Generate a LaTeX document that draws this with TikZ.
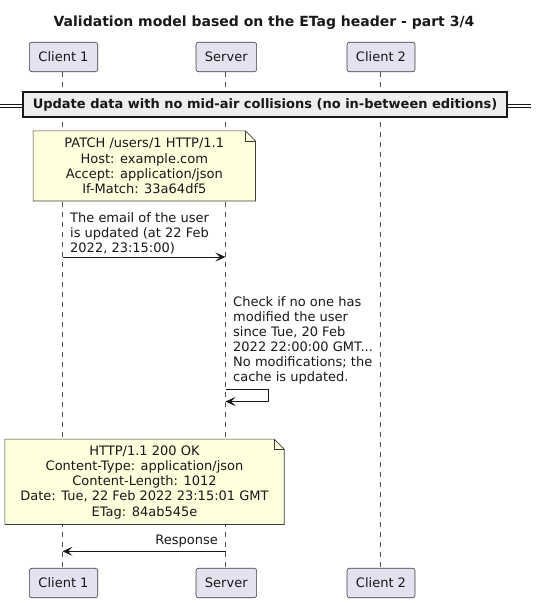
\documentclass[tikz,border=0pt]{standalone}
\usepackage{fontspec}
\setmainfont{DejaVu Sans}
\usetikzlibrary{arrows.meta}
\definecolor{partfill}{HTML}{E2E2F0}
\definecolor{linecol}{HTML}{181818}
\definecolor{notefill}{HTML}{FEFFDD}
\definecolor{divfill}{HTML}{EEEEEE}
\tikzset{
  txt/.style={font=\fontsize{13}{15.1}\selectfont, inner sep=0pt, text=linecol},
  participant/.style={txt, draw=linecol!85, fill=partfill, rounded corners=2.5pt, line width=0.6pt, minimum height=29.5pt},
  lifeline/.style={draw=linecol!75, dash pattern=on 5pt off 5pt, line width=0.6pt},
  notebox/.style={draw=linecol!85, fill=notefill, line width=0.6pt},
  notetext/.style={txt, align=center},
  msg/.style={draw=linecol, line width=0.9pt, -{Stealth[length=10pt,width=9pt,inset=4.5pt]}},
  msglabel/.style={txt, align=left},
}
\begin{document}
\begin{tikzpicture}[x=1pt,y=-1pt]
\useasboundingbox (0,0) rectangle (536,603);

% title
\node[txt, font=\bfseries\fontsize{14}{16}\selectfont] (title) at (264,23) {Validation model based on the ETag header - part 3/4};

% participants
\node[participant, minimum width=68.4pt] (c1top) at (63.5,57) {Client 1};
\node[participant, minimum width=60.6pt] (svtop) at (226.3,57) {Server};
\node[participant, minimum width=68pt] (c2top) at (381,57) {Client 2};
\node[participant, minimum width=68.4pt] (c1bot) at (63.5,583) {Client 1};
\node[participant, minimum width=60.6pt] (svbot) at (226.3,583) {Server};
\node[participant, minimum width=68pt] (c2bot) at (381,583) {Client 2};

% lifelines
\draw[lifeline] ([xshift=-1pt]c1top.south) -- ([xshift=-1pt]c1bot.north);
\draw[lifeline] ([xshift=-0.8pt]svtop.south) -- ([xshift=-0.8pt]svbot.north);
\draw[lifeline] ([xshift=-1pt]c2top.south) -- ([xshift=-1pt]c2bot.north);

% divider
\coordinate (dl) at (0,104);
\coordinate (dr) at (531,104);
\coordinate (dl2) at (0,107.5);
\coordinate (dr2) at (531,107.5);
\draw[linecol, line width=0.9pt] (dl) -- (dr);
\draw[linecol, line width=0.9pt] (dl2) -- (dr2);
\node[txt, font=\bfseries\fontsize{13}{15}\selectfont, draw=linecol, line width=1.8pt, fill=divfill, minimum width=483.4pt, minimum height=25pt] (div) at (265,104.8) {Update data with no mid-air collisions (no in-between editions)};

% note 1
\node[notetext, minimum width=222pt, minimum height=69.7pt] (n1) at (144.3,165.9) {};
\draw[notebox] (n1.north west) -- ([xshift=-10pt]n1.north east) -- ([yshift=-10pt]n1.north east) -- (n1.south east) -- (n1.south west) -- cycle;
\draw[notebox, fill=none] ([xshift=-10pt]n1.north east) -- ([xshift=-10pt,yshift=-10pt]n1.north east) -- ([yshift=-10pt]n1.north east);
\node[notetext] (n1t) at (n1.center) {PATCH /users/1 HTTP/1.1\\Host: example.com\\Accept: application/json\\If-Match: 33a64df5};

% message 1
\coordinate (m1a) at (62.5,257);
\coordinate (m1b) at (225.5,257);
\draw[msg] (m1a) -- (m1b);
\node[msglabel, anchor=west] (m1l) at (70,233.7) {The email of the user\\is updated (at 22 Feb\\2022, 23:15:00)};

% self message
\coordinate (s1a) at (225.5,389);
\coordinate (s1r) at (268,389);
\coordinate (s1rb) at (268,401.5);
\coordinate (s1b) at (225.5,401.5);
\draw[msg] (s1a) -- (s1r) -- (s1rb) -- (s1b);
\node[msglabel, anchor=west] (s1l) at (233,340.6) {Check if no one has\\modified the user\\since Tue, 20 Feb\\2022 22:00:00 GMT...\\No modifications; the\\cache is updated.};

% note 2
\node[notetext, minimum width=279pt, minimum height=85pt] (n2) at (144.5,481.8) {};
\draw[notebox] (n2.north west) -- ([xshift=-10pt]n2.north east) -- ([yshift=-10pt]n2.north east) -- (n2.south east) -- (n2.south west) -- cycle;
\draw[notebox, fill=none] ([xshift=-10pt]n2.north east) -- ([xshift=-10pt,yshift=-10pt]n2.north east) -- ([yshift=-10pt]n2.north east);
\node[notetext] (n2t) at (144.5,482.4) {HTTP/1.1 200 OK\\Content-Type: application/json\\Content-Length: 1012\\Date: Tue, 22 Feb 2022 23:15:01 GMT\\ETag: 84ab545e};

% response
\coordinate (r1a) at (225.5,551.3);
\coordinate (r1b) at (62.5,551.3);
\draw[msg] (r1a) -- (r1b);
\node[txt, anchor=east] (r1l) at (218,541) {Response};
\end{tikzpicture}
\end{document}
